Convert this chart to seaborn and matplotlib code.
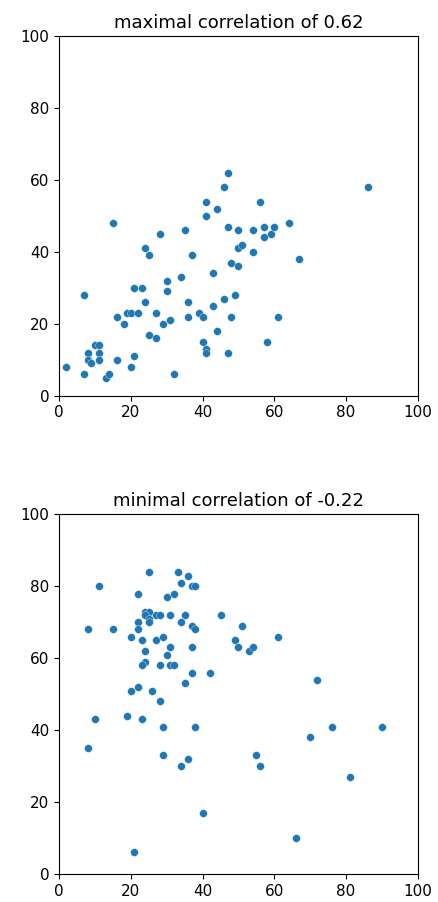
import matplotlib
matplotlib.use('Agg')
import matplotlib.pyplot as plt
import pandas as pd
import seaborn as sns

# values
max_x = [2, 7, 7, 8, 8, 9, 10, 11, 11, 11, 13, 14, 15, 16, 16, 18, 19, 20, 20, 21,
         21, 23, 22, 24, 24, 25, 25, 27, 27, 28, 29, 30, 30, 31, 32, 34, 35, 36, 36, 37,
         39, 40, 40, 41, 41, 41, 41, 43, 43, 44, 44, 46, 46, 47, 47, 47, 48, 48, 49, 50,
         50, 50, 51, 54, 54, 56, 57, 57, 58, 59, 60, 61, 64, 67, 86]
max_y = [8, 6, 28, 12, 10, 9, 14, 14, 12, 10, 5, 6, 48, 22, 10, 20, 23, 23, 8, 11,
         30, 30, 23, 26, 41, 17, 39, 23, 16, 45, 20, 29, 32, 21, 6, 33, 46, 22, 26, 39,
         23, 22, 15, 13, 12, 50, 54, 34, 25, 52, 18, 27, 58, 62, 47, 12, 22, 37, 28, 36,
         46, 41, 42, 40, 46, 54, 44, 47, 15, 45, 47, 22, 48, 38, 58]

min_x = [11, 25, 33, 36, 34, 37, 38, 22, 32, 30, 24, 25, 24, 27, 28, 31, 35, 45, 25, 25,
         22, 34, 37, 38, 51, 8, 15, 22, 20, 23, 27, 29, 49, 50, 24, 31, 37, 53, 54, 61,
         30, 24, 23, 28, 31, 32, 37, 42, 35, 22, 20, 26, 72, 28, 19, 10, 23, 29, 38, 8,
         29, 34, 36, 55, 56, 40, 21, 66, 70, 76, 81, 90]
min_y = [80, 84, 84, 83, 81, 80, 80, 78, 78, 77, 73, 73, 72, 72, 72, 72, 72, 72, 71, 70,
         70, 70, 69, 68, 69, 68, 68, 68, 66, 65, 65, 66, 65, 63, 62, 63, 63, 62, 63, 66,
         61, 59, 58, 58, 58, 58, 56, 56, 53, 52, 51, 51, 54, 48, 44, 43, 43, 41, 41, 35,
         33, 30, 32, 33, 30, 17, 6, 10, 38, 41, 27, 41]

titles = ['maximal correlation of 0.62', 'minimal correlation of -0.22']
ticks = [0, 20, 40, 60, 80, 100]

df_max = pd.DataFrame({'x': max_x, 'y': max_y})
df_min = pd.DataFrame({'x': min_x, 'y': min_y})

fig, axes = plt.subplots(2, 1, figsize=(4.38, 9.02), dpi=100)
fig.subplots_adjust(left=0.135, right=0.954, top=0.960, bottom=0.031, hspace=0.33)

for ax, df, title in zip(axes, [df_max, df_min], titles):
    sns.scatterplot(data=df, x='x', y='y', ax=ax, s=32, color='#1f77b4',
                    edgecolor='white', linewidth=0.25)
    ax.set_xlim(0, 100)
    ax.set_ylim(0, 100)
    ax.set_xticks(ticks)
    ax.set_yticks(ticks)
    ax.set_xlabel('')
    ax.set_ylabel('')
    ax.tick_params(labelsize=11)
    ax.set_title(title, fontsize=13)

plt.savefig('out.png')
